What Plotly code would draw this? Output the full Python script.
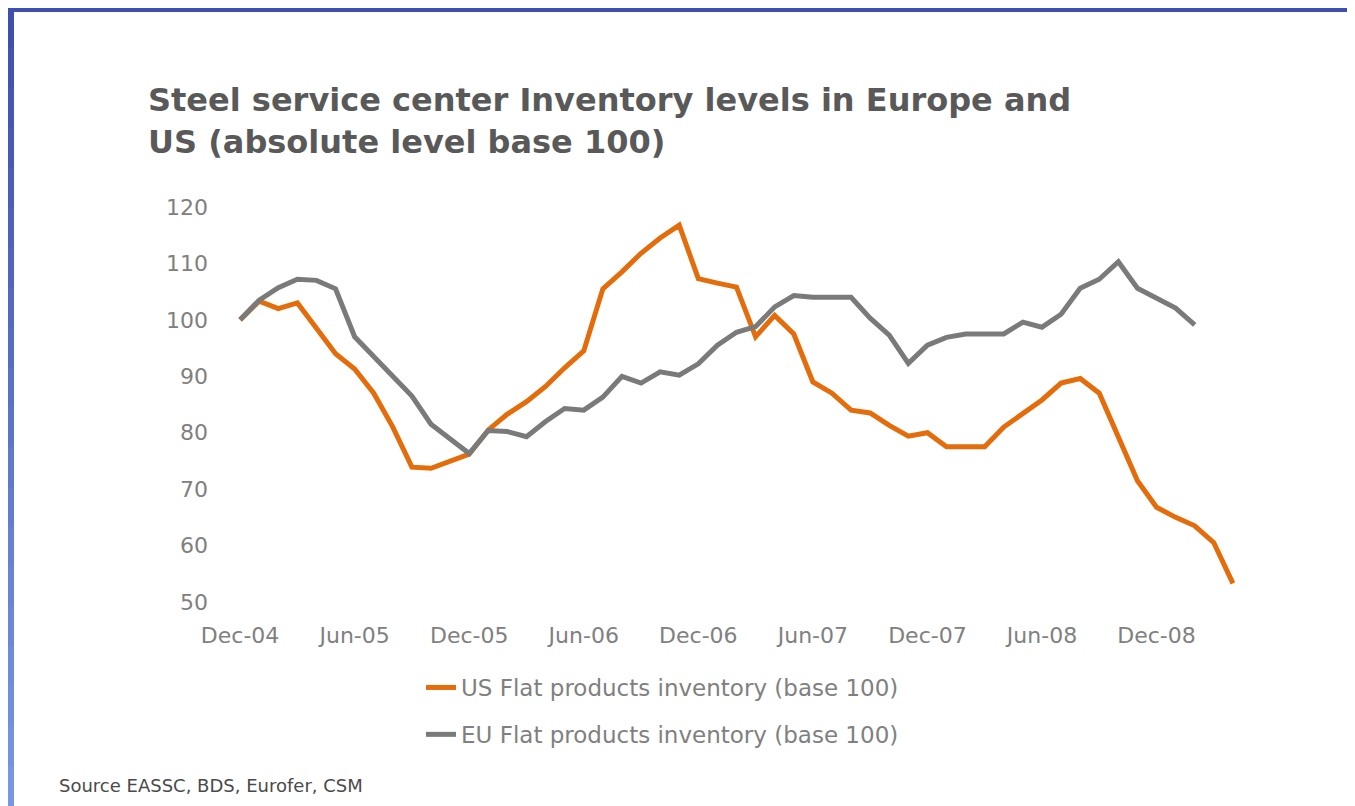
import plotly.graph_objects as go

# ---------------- data ----------------
months = ["Dec-04", "Jan-05", "Feb-05", "Mar-05", "Apr-05", "May-05", "Jun-05", "Jul-05",
          "Aug-05", "Sep-05", "Oct-05", "Nov-05", "Dec-05", "Jan-06", "Feb-06", "Mar-06",
          "Apr-06", "May-06", "Jun-06", "Jul-06", "Aug-06", "Sep-06", "Oct-06", "Nov-06",
          "Dec-06", "Jan-07", "Feb-07", "Mar-07", "Apr-07", "May-07", "Jun-07", "Jul-07",
          "Aug-07", "Sep-07", "Oct-07", "Nov-07", "Dec-07", "Jan-08", "Feb-08", "Mar-08",
          "Apr-08", "May-08", "Jun-08", "Jul-08", "Aug-08", "Sep-08", "Oct-08", "Nov-08",
          "Dec-08", "Jan-09", "Feb-09", "Mar-09", "Apr-09"]

us_flat = [100, 103.3, 102.0, 103.0, 98.5, 94.0, 91.3, 87.0, 81.0, 73.9, 73.7, 75.0, 76.2,
           80.5, 83.3, 85.5, 88.2, 91.5, 94.5, 105.5, 108.5, 111.8, 114.5, 116.8, 107.3,
           106.5, 105.8, 97.0, 100.8, 97.5, 89.0, 87.0, 84.0, 83.5, 81.3, 79.4, 80.0, 77.5,
           77.5, 77.5, 81.0, 83.5, 85.8, 88.8, 89.6, 87.0, 79.5, 71.5, 66.8, 65.0, 63.5,
           60.5, 53.3]

eu_flat = [100, 103.5, 105.7, 107.2, 107.0, 105.5, 97.0, 93.5, 90.0, 86.5, 81.5, 78.8, 76.3,
           80.4, 80.2, 79.3, 82.0, 84.3, 84.0, 86.3, 90.0, 88.8, 90.8, 90.2, 92.2, 95.5,
           97.8, 98.8, 102.3, 104.3, 104.0, 104.0, 104.0, 100.3, 97.3, 92.3, 95.5, 96.9,
           97.5, 97.5, 97.5, 99.6, 98.7, 101.0, 105.6, 107.2, 110.3, 105.6, 103.9, 102.1,
           99.1]

tick_labels = ["Dec-04", "Jun-05", "Dec-05", "Jun-06", "Dec-06", "Jun-07", "Dec-07",
               "Jun-08", "Dec-08"]
y_ticks = [50, 60, 70, 80, 90, 100, 110, 120]

series_names = ["US Flat products inventory (base 100)", "EU Flat products inventory (base 100)"]

# ---------------- figure ----------------
OFF = 8                     # default page body margin
W, H = 1355 - OFF, 806 - OFF
L, R, T, B = 213, 103, 199, 204
PW, PH = W - L - R, H - T - B


def px_x(page_x):
    return (page_x - OFF - L) / PW


def px_y(page_y):
    return (H - B - (page_y - OFF)) / PH


fig = go.Figure()
fig.add_trace(go.Scatter(x=months[:len(us_flat)], y=us_flat, mode="lines",
                         name=series_names[0], legendgroup="us",
                         line=dict(color="#E46C0A", width=5)))
fig.add_trace(go.Scatter(x=months[:len(eu_flat)], y=eu_flat, mode="lines",
                         name=series_names[1], legendgroup="eu",
                         line=dict(color="#7A7A7A", width=5)))

shapes = []
# top blue band
shapes.append(dict(type="rect", xref="paper", yref="paper", layer="below",
                   x0=px_x(OFF), x1=px_x(OFF + W), y0=px_y(OFF), y1=px_y(OFF + 4),
                   fillcolor="#3F4FAF", line=dict(width=0)))
# left blue band with vertical gradient
n = 20
c0 = (63, 79, 175)
c1 = (120, 150, 228)
for k in range(n):
    t = k / (n - 1)
    col = "rgb(%d,%d,%d)" % tuple(round(a + (b - a) * t) for a, b in zip(c0, c1))
    shapes.append(dict(type="rect", xref="paper", yref="paper", layer="below",
                       x0=px_x(OFF), x1=px_x(OFF + 6),
                       y0=px_y(OFF + H * k / n), y1=px_y(OFF + H * (k + 1) / n + 1),
                       fillcolor=col, line=dict(width=0)))

fig.update_layout(
    width=W, height=H,
    margin=dict(l=L, r=R, t=T, b=B, pad=0),
    paper_bgcolor="white", plot_bgcolor="white",
    font=dict(family="DejaVu Sans", color="#808080"),
    title=dict(text="Steel service center Inventory levels in Europe and<br>US (absolute level base 100)",
               x=(148 - OFF) / W, xanchor="left", xref="container",
               y=1 - 103 / H, yanchor="top", yref="container",
               font=dict(family="DejaVu Sans", size=32, color="#595959", weight="bold")),
    xaxis=dict(type="category", categoryorder="array", categoryarray=months,
               range=[-1, 53], tickmode="array", tickvals=tick_labels, ticktext=tick_labels,
               showgrid=False, zeroline=False, showline=False, ticks="",
               ticklabelstandoff=18,
               tickfont=dict(size=22, color="#808080")),
    yaxis=dict(range=[50, 120], tickvals=y_ticks, showgrid=False, zeroline=False,
               showline=False, ticks="", ticklabelstandoff=12,
               tickfont=dict(size=22, color="#808080")),
    legend=dict(x=px_x(421), xanchor="left", y=px_y(666), yanchor="top",
                traceorder="grouped", tracegroupgap=14,
                font=dict(size=23, color="#808080"), bgcolor="rgba(0,0,0,0)"),
    shapes=shapes,
    annotations=[dict(text="Source EASSC, BDS, Eurofer, CSM", xref="paper", yref="paper",
                      x=px_x(57), y=px_y(785), xanchor="left", yanchor="middle",
                      showarrow=False, font=dict(size=18, color="#4A4A4A"))],
)

fig.write_html("out.html")
